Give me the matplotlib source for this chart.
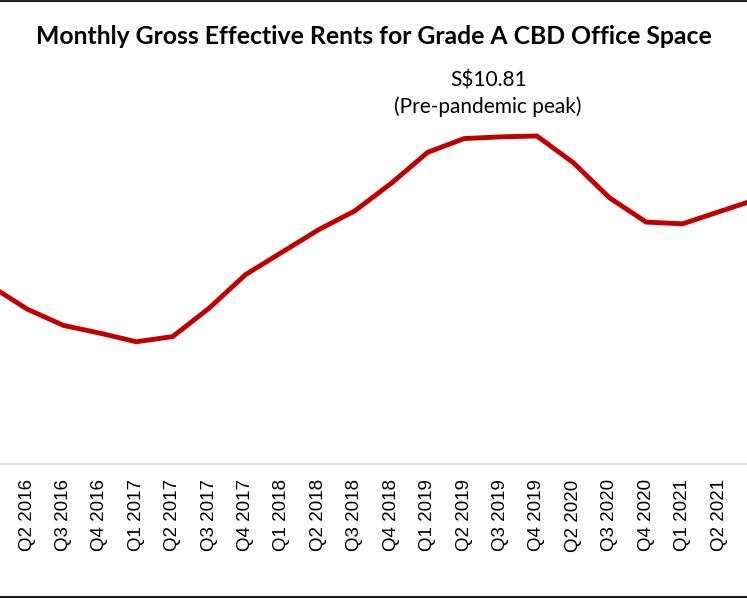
import matplotlib
matplotlib.use("Agg")
import matplotlib.pyplot as plt
from matplotlib.lines import Line2D

# quarterly rents (S$ psf per month)
quarters = ["Q1 2016", "Q2 2016", "Q3 2016", "Q4 2016",
            "Q1 2017", "Q2 2017", "Q3 2017", "Q4 2017",
            "Q1 2018", "Q2 2018", "Q3 2018", "Q4 2018",
            "Q1 2019", "Q2 2019", "Q3 2019", "Q4 2019",
            "Q2 2020", "Q3 2020", "Q4 2020",
            "Q1 2021", "Q2 2021", "Q3 2021"]
rents = [9.07, 8.80, 8.61, 8.52,
         8.42, 8.48, 8.81, 9.20,
         9.46, 9.72, 9.94, 10.26,
         10.62, 10.78, 10.80, 10.81,
         10.50, 10.09, 9.81,
         9.79, 9.93, 10.07]
peak_label = "S$10.81\n(Pre-pandemic peak)"
title = "Monthly Gross Effective Rents for Grade A CBD Office Space"

W, H = 747, 598
fig = plt.figure(figsize=(W / 100, H / 100), dpi=100)

# the chart is cropped on both sides, so the axes run past the figure edges
left_px, right_px = -40, 790
top_px, bottom_px = 60, 464
ax = fig.add_axes([left_px / W, 1 - bottom_px / H,
                   (right_px - left_px) / W, (bottom_px - top_px) / H])

x = list(range(len(quarters)))
ax.plot(x, rents, color="#C00000", lw=3.5, solid_joinstyle="miter")

# category positions: first label at -9.4 px, spacing 36.42 px
x0, dx = -9.4, 36.42
ax.set_xlim((left_px - x0) / dx, (right_px - x0) / dx)
ax.set_ylim(7.0, 7.0 + (bottom_px - top_px) * 0.011616)

# the first and last quarters fall outside the crop, so only label the rest
ax.set_xticks(x[1:-1])
ax.set_xticklabels(quarters[1:-1], rotation=90, fontsize=13.5, family="Liberation Sans")
ax.tick_params(axis="x", length=0, pad=11)
ax.set_yticks([])
for s in ["top", "left", "right"]:
    ax.spines[s].set_visible(False)
ax.spines["bottom"].set_color("#D9D9D9")
ax.spines["bottom"].set_linewidth(1.2)

ax.text(13.66, 7.0 + (464 - 94) * 0.011616, peak_label, ha="center", va="center",
        fontsize=15, family="Lato", linespacing=1.35)

fig.text(0.5, 1 - 37 / H, title, ha="center", va="center",
         fontsize=17.8, fontweight="bold", family="Lato")

# frame lines at top and bottom of the crop
fig.add_artist(Line2D([0, 1], [1 - 0.5 / H, 1 - 0.5 / H], color="#222222", lw=1.5))
fig.add_artist(Line2D([0, 1], [1 - 596.5 / H, 1 - 596.5 / H], color="#222222", lw=1.5))

fig.savefig("out.png", dpi=100)
